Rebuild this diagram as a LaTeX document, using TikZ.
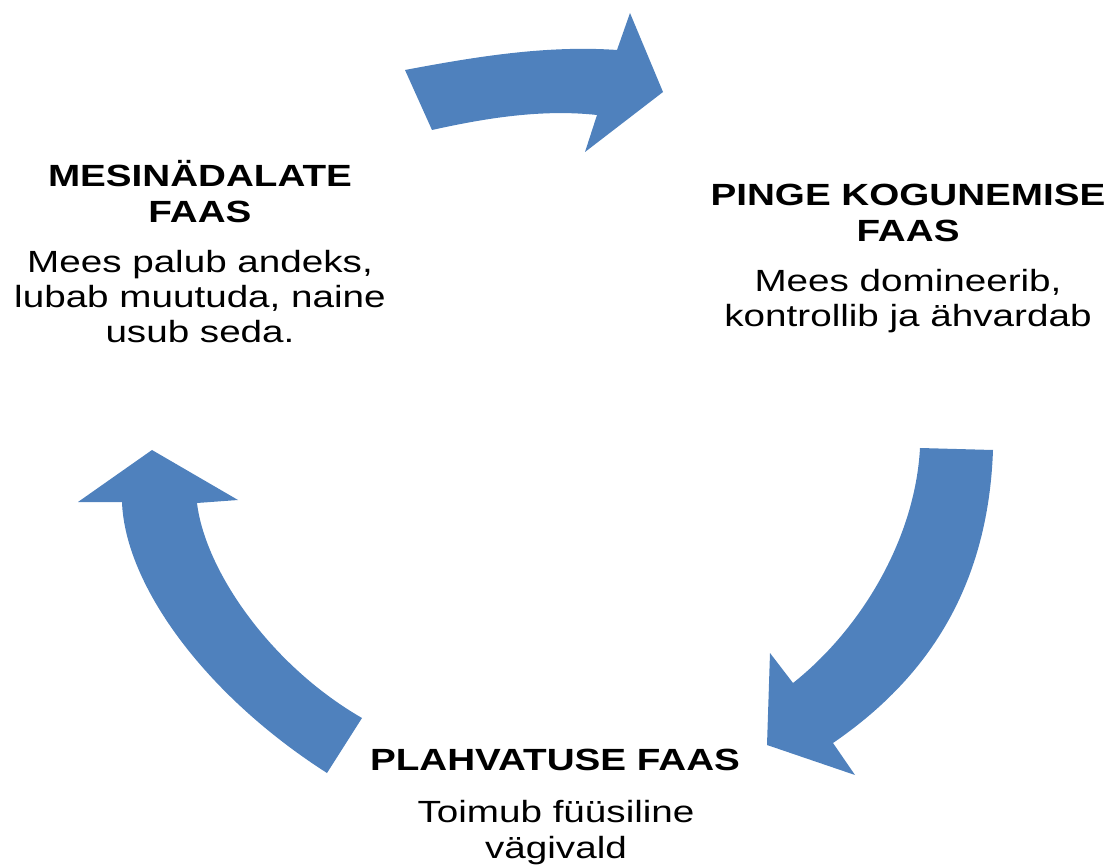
\documentclass[tikz,border=0pt]{standalone}
\usepackage{fontspec}
\setmainfont{Liberation Sans}
\newfontfamily\phasefont[FakeStretch=1.26]{Liberation Sans}
\usetikzlibrary{positioning}
\definecolor{arrowblue}{RGB}{79,129,189}

\tikzset{
  cyclearrow/.style={fill=arrowblue},
  phasehead/.style={align=center, inner sep=0pt, anchor=base,
    font=\phasefont\bfseries\fontsize{21.8}{26.3}\selectfont},
  phasetext/.style={align=center, inner sep=0pt, anchor=base,
    font=\phasefont\fontsize{21.8}{24.9}\selectfont},
}

\begin{document}
\begin{tikzpicture}[x=0.025cm, y=-0.025cm]
        \useasboundingbox (0,0) rectangle (1112,865);
        % top arrow
        \fill[cyclearrow] (405,70) .. controls (474,57) and (546,45) .. (617,50)
            -- (630,13) -- (663,92) -- (585,152) -- (597,115)
            .. controls (542,109) and (486,118) .. (432,130) -- cycle;
        % right arrow
        \fill[cyclearrow] (993,450) .. controls (988,590) and (925,680) .. (833,743)
            -- (855,775) -- (767,745) -- (770,653) -- (793,683)
            .. controls (860,630) and (915,540) .. (920,448) -- cycle;
        % left arrow
        \fill[cyclearrow] (327,773) .. controls (205,695) and (125,585) .. (122,502)
            -- (78,502) -- (152,450) -- (238,500) -- (197,503)
            .. controls (205,570) and (270,665) .. (362,718) -- cycle;

        % base anchor = last line
        \node[phasehead] (mesihead) at (200,223) {MESINÄDALATE\\FAAS};
        \node[phasetext] (mesitext) at (200,343) {Mees palub andeks,\\lubab muutuda, naine\\usub seda.};
        \node[phasehead] (pingehead) at (908,242) {PINGE KOGUNEMISE\\FAAS};
        \node[phasetext] (pingetext) at (908,327) {Mees domineerib,\\kontrollib ja ähvardab};
        \node[phasehead] (plahvhead) at (555,770) {PLAHVATUSE FAAS};
        \node[phasetext] (plahvtext) at (556,858) {Toimub füüsiline\\vägivald};
    \end{tikzpicture}
\end{document}
